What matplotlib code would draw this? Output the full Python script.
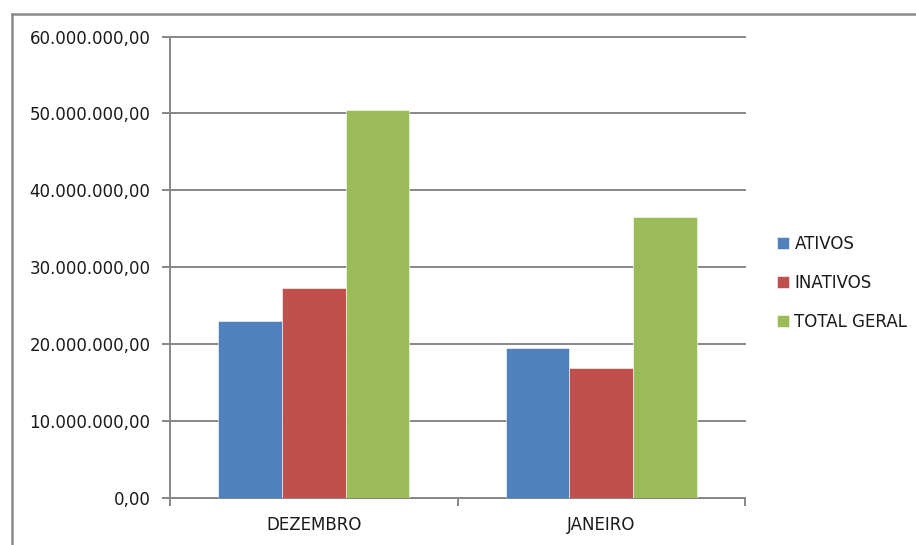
"""Grouped bar chart: ATIVOS / INATIVOS / TOTAL GERAL, DEZEMBRO vs JANEIRO."""
import matplotlib
matplotlib.use("Agg")
import matplotlib.pyplot as plt
import numpy as np
from matplotlib.lines import Line2D
from matplotlib.ticker import FuncFormatter, MultipleLocator, FixedLocator

categories = ["DEZEMBRO", "JANEIRO"]
ativos = [22_990_000, 19_440_000]
inativos = [27_360_000, 16_920_000]
total_geral = [50_480_000, 36_530_000]

series_names = ["ATIVOS", "INATIVOS", "TOTAL GERAL"]
series_colors = ["#4F81BD", "#C0504D", "#9BBB59"]
GRAY = "#878787"
FS = 12

plt.rcParams["font.family"] = ["DejaVu Sans"]


def br_fmt(v, _pos):
    s = f"{v:,.2f}"
    return s.replace(",", "X").replace(".", ",").replace("X", ".")


fig = plt.figure(figsize=(9.16, 5.45), dpi=100, facecolor="white")
ax = fig.add_axes([170 / 916, 1 - 498 / 545, 575 / 916, (498 - 36.5) / 545])

x = np.arange(len(categories))
width = 0.221
bars = []
for i, (vals, col) in enumerate(zip([ativos, inativos, total_geral], series_colors)):
    b = ax.bar(x + (i - 1) * width, vals, width, color=col, edgecolor="white",
               linewidth=0.4, zorder=3, label=series_names[i])
    bars.append(b)

ax.set_xlim(-0.5, len(categories) - 0.5)
ax.set_ylim(0, 60_000_000)
ax.yaxis.set_major_locator(MultipleLocator(10_000_000))
ax.yaxis.set_major_formatter(FuncFormatter(br_fmt))
ax.grid(axis="y", color=GRAY, linewidth=1.4, zorder=0)
for gl in ax.get_ygridlines():
    gl.set_clip_on(False)

ax.set_xticks(x)
ax.set_xticklabels(categories)
ax.xaxis.set_minor_locator(FixedLocator([-0.5, 0.5, 1.5]))
ax.tick_params(axis="x", which="major", length=0, pad=13, labelsize=FS, colors="#1a1a1a")
ax.tick_params(axis="x", which="minor", length=6, width=1.4, color=GRAY)
ax.tick_params(axis="y", length=6, width=1.4, color=GRAY, pad=8, labelsize=FS,
               labelcolor="#1a1a1a")

for side in ("top", "right"):
    ax.spines[side].set_visible(False)
for side in ("left", "bottom"):
    ax.spines[side].set_color(GRAY)
    ax.spines[side].set_linewidth(1.4)

leg = ax.legend(handles=[b[0] for b in bars], labels=series_names,
                loc="upper left", bbox_to_anchor=(777 / 916, 1 - 235 / 545),
                bbox_transform=fig.transFigure, frameon=False, fontsize=FS,
                handlelength=0.7, handleheight=0.7, handletextpad=0.35,
                labelspacing=1.25, borderpad=0, borderaxespad=0)
for t in leg.get_texts():
    t.set_color("#1a1a1a")

# outer chart frame (only top and left edges visible in the crop)
fig.add_artist(Line2D([11.5 / 916, 11.5 / 916], [0, 1 - 14 / 545],
                      transform=fig.transFigure, color="#8a8a8a", linewidth=1.8))
fig.add_artist(Line2D([11.5 / 916, 1], [1 - 14 / 545, 1 - 14 / 545],
                      transform=fig.transFigure, color="#8a8a8a", linewidth=1.8))

fig.savefig("out.png", dpi=100, facecolor="white")
